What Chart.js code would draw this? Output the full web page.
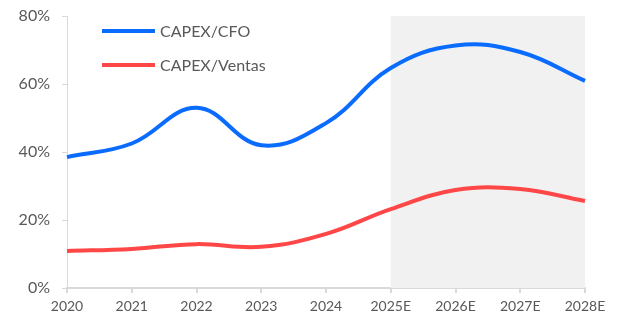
<!DOCTYPE html>
<html>
<head>
<meta charset="utf-8">
<script src="https://cdn.jsdelivr.net/npm/chart.js@4"></script>
<style>
  html, body { margin: 0; padding: 0; background: #fff; }
  #wrap { width: 637px; height: 325px; }
</style>
</head>
<body>
<div id="wrap"><canvas id="chart" width="637" height="325"></canvas></div>
<script>
const years = ['2020', '2021', '2022', '2023', '2024', '2025E', '2026E', '2027E', '2028E'];
const capexCfo = [38.5, 42.5, 53, 42, 48.5, 64.7, 71.3, 69.4, 60.9];
const capexVentas = [10.9, 11.5, 12.9, 12.1, 15.9, 23.2, 28.8, 29.1, 25.6];
const yTicks = [0, 20, 40, 60, 80];
const shadeFrom = '2025E';
const shadeTo = '2028E';

const textColor = '#595959';
const axisColor = '#d9d9d9';
const font = 'Lato, "Open Sans", sans-serif';

// zona sombreada de estimaciones
const shade = {
   id: 'shade',
   beforeDatasetsDraw(chart) {
      const { ctx, chartArea, scales } = chart;
      const x0 = scales.x.getPixelForValue(years.indexOf(shadeFrom));
      const x1 = scales.x.getPixelForValue(years.indexOf(shadeTo));
      ctx.save();
      ctx.fillStyle = '#f1f1f1';
      ctx.fillRect(x0, chartArea.top, x1 - x0, chartArea.bottom - chartArea.top);
      ctx.restore();
   }
};

// leyenda dentro del area
const legendInside = {
   id: 'legendInside',
   afterDraw(chart) {
      const { ctx } = chart;
      ctx.save();
      ctx.font = '16px ' + font;
      ctx.textBaseline = 'middle';
      chart.data.datasets.forEach((ds, i) => {
         const y = 31 + i * 34;
         ctx.strokeStyle = ds.borderColor;
         ctx.lineWidth = 4;
         ctx.lineCap = 'butt';
         ctx.beginPath();
         ctx.moveTo(102, y);
         ctx.lineTo(155, y);
         ctx.stroke();
         ctx.fillStyle = textColor;
         ctx.fillText(ds.label, 160, y + 1);
      });
      ctx.restore();
   }
};

new Chart(document.getElementById('chart'), {
   type: 'line',
   data: {
      labels: years,
      datasets: [
         {
            label: 'CAPEX/CFO',
            data: capexCfo,
            borderColor: '#0a6cff',
            borderWidth: 4,
            tension: 0.4,
            pointRadius: 0,
            fill: false
         },
         {
            label: 'CAPEX/Ventas',
            data: capexVentas,
            borderColor: '#ff4747',
            borderWidth: 4,
            tension: 0.4,
            pointRadius: 0,
            fill: false
         }
      ]
   },
   plugins: [shade, legendInside],
   options: {
      responsive: false,
      animation: false,
      layout: { padding: { top: 16, right: 52, left: 0, bottom: 0 } },
      plugins: {
         legend: { display: false },
         tooltip: { enabled: false }
      },
      scales: {
         x: {
            offset: false,
            border: { color: axisColor, width: 2 },
            grid: { drawOnChartArea: false, color: axisColor, tickLength: 5, lineWidth: 2 },
            ticks: { color: textColor, font: { size: 14, family: font }, maxRotation: 0, padding: 5 },
            afterFit: (s) => { s.height = 37; s.paddingLeft = 0; s.paddingRight = 0; }
         },
         y: {
            min: 0,
            max: 80,
            afterBuildTicks: (s) => { s.ticks = yTicks.map(v => ({ value: v })); },
            border: { color: axisColor, width: 1 },
            grid: { drawOnChartArea: false, color: axisColor, tickLength: 5 },
            ticks: {
               color: textColor,
               font: { size: 16, family: font },
               padding: 12,
               callback: (v) => v + '%'
            },
            afterFit: (s) => { s.width = 67; s.paddingTop = 0; s.paddingBottom = 0; }
         }
      }
   }
});
</script>
</body>
</html>
